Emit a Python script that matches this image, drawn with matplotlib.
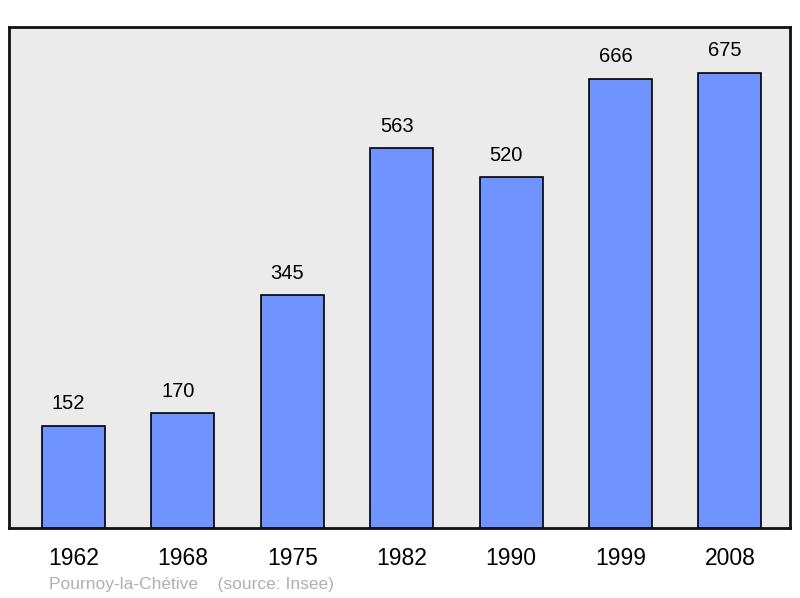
import matplotlib
matplotlib.use("Agg")
import matplotlib.pyplot as plt

years = ["1962", "1968", "1975", "1982", "1990", "1999", "2008"]
population = [152, 170, 345, 563, 520, 666, 675]
footer = "Pournoy-la-Chétive    (source: Insee)"

plt.rcParams['font.family'] = ['Liberation Sans', 'DejaVu Sans']

fig = plt.figure(figsize=(8, 5.98), dpi=100)
ax = fig.add_axes([9/800, 70/598, 781/800, 501/598])
ax.set_facecolor('#ebebeb')

x = list(range(len(years)))
bars = ax.bar(x, population, width=0.575, color='#7094ff', edgecolor='black', linewidth=1.2, zorder=3)
for xi, v in zip(x, population):
    ax.annotate(str(v), (xi, v), xytext=(-3.5, 9), textcoords='offset points',
                ha='center', va='bottom', fontsize=14.5, color='black')

ax.set_xlim(-0.59, 6.55)
ax.set_ylim(0, 743)
ax.set_xticks(x)
ax.set_xticklabels(years, fontsize=16.5)
ax.tick_params(axis='x', length=0, pad=14)
ax.set_yticks([])
for s in ax.spines.values():
    s.set_linewidth(2)
    s.set_color('#111111')

fig.text(49/800, 1 - 584/598, footer, fontsize=12.5, color='#b0b0b0', ha='left', va='center')

fig.savefig('out.png', dpi=100)
